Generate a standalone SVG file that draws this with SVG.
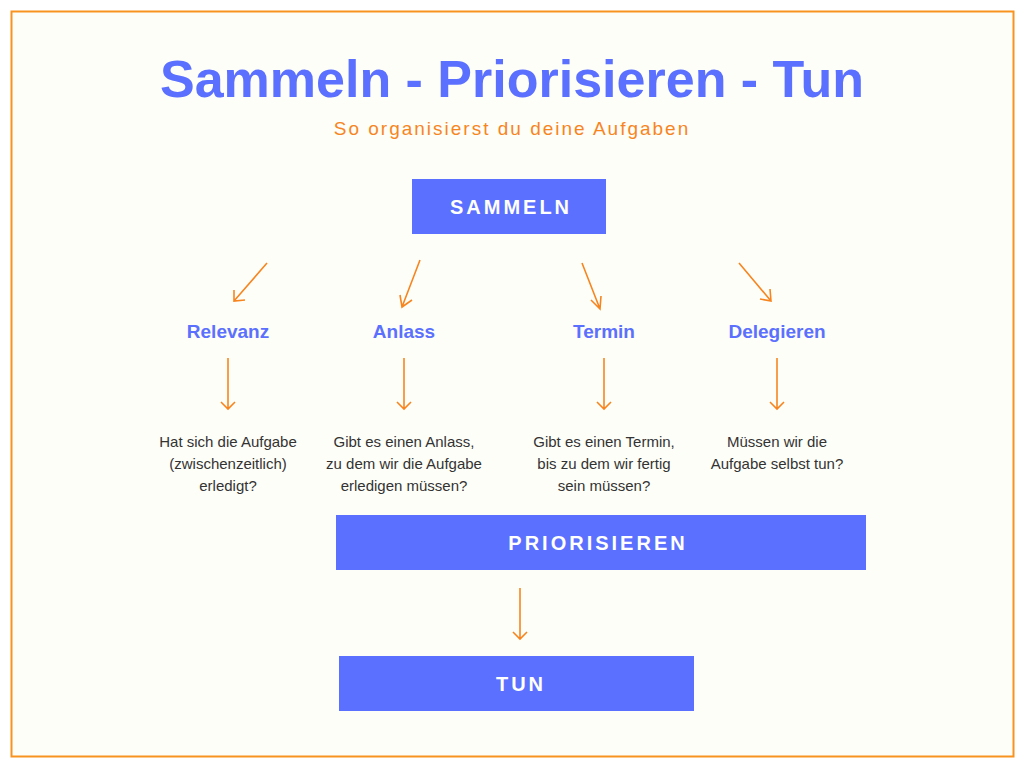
<svg xmlns="http://www.w3.org/2000/svg" width="1024" height="768" viewBox="0 0 1024 768">
<style>
.box{fill:#5b70fe}
.bt{font-family:"Liberation Sans",Arial,sans-serif;font-weight:bold;font-size:20px;fill:#fff;letter-spacing:3px;text-anchor:middle}
.h{font-family:"Liberation Sans",Arial,sans-serif;font-weight:bold;font-size:19px;fill:#5b70fe;text-anchor:middle}
.d{font-family:"Liberation Sans",Arial,sans-serif;font-size:15px;fill:#333;text-anchor:middle}
.c{stroke:#f7851f;stroke-width:1.6;fill:none}
</style>
<rect x="0" y="0" width="1024" height="768" fill="#fff"/>
<rect x="11.5" y="11.5" width="1002" height="745" fill="#fefef8" stroke="#f7931e" stroke-width="2"/>
<text x="512" y="97" font-family="Liberation Sans,Arial,sans-serif" font-weight="bold" font-size="52" fill="#5b70fe" text-anchor="middle">Sammeln - Priorisieren - Tun</text>
<text x="512" y="135" font-family="Liberation Sans,Arial,sans-serif" font-size="19" fill="#f7851f" text-anchor="middle" letter-spacing="2">So organisierst du deine Aufgaben</text>
<g id="sammeln"><rect class="box" x="412" y="179" width="194" height="55"/><text class="bt" x="511" y="214">SAMMELN</text></g>
<g id="relevanz"><text class="h" x="228" y="338">Relevanz</text></g>
<g id="anlass"><text class="h" x="404" y="338">Anlass</text></g>
<g id="termin"><text class="h" x="604" y="338">Termin</text></g>
<g id="delegieren"><text class="h" x="777" y="338">Delegieren</text></g>
<g id="q1"><text class="d" x="228" y="447">Hat sich die Aufgabe</text><text class="d" x="228" y="469">(zwischenzeitlich)</text><text class="d" x="228" y="491">erledigt?</text></g>
<g id="q2"><text class="d" x="404" y="447">Gibt es einen Anlass,</text><text class="d" x="404" y="469">zu dem wir die Aufgabe</text><text class="d" x="404" y="491">erledigen müssen?</text></g>
<g id="q3"><text class="d" x="604" y="447">Gibt es einen Termin,</text><text class="d" x="604" y="469">bis zu dem wir fertig</text><text class="d" x="604" y="491">sein müssen?</text></g>
<g id="q4"><text class="d" x="777" y="447">Müssen wir die</text><text class="d" x="777" y="469">Aufgabe selbst tun?</text></g>
<g id="priorisieren"><rect class="box" x="336" y="515" width="530" height="55"/><text class="bt" x="598" y="550">PRIORISIEREN</text></g>
<g id="tun"><rect class="box" x="339" y="656" width="355" height="55"/><text class="bt" x="521" y="691">TUN</text></g>
<g id="connectors" class="c">
<path d="M267 263L234 301M234 290L234 301L245 300"/>
<path d="M420 260L402 307M400 295L402 307L412 300"/>
<path d="M582 263L600 309M591 300L600 309L601 296"/>
<path d="M739 263L771 301M760 299L771 301L770 289"/>
<path d="M228 358V409M221 402L228 409L235 402"/>
<path d="M404 358V409M397 402L404 409L411 402"/>
<path d="M604 358V409M597 402L604 409L611 402"/>
<path d="M777 358V409M770 402L777 409L784 402"/>
<path d="M520 588V639M513 632L520 639L527 632"/>
</g>
</svg>
